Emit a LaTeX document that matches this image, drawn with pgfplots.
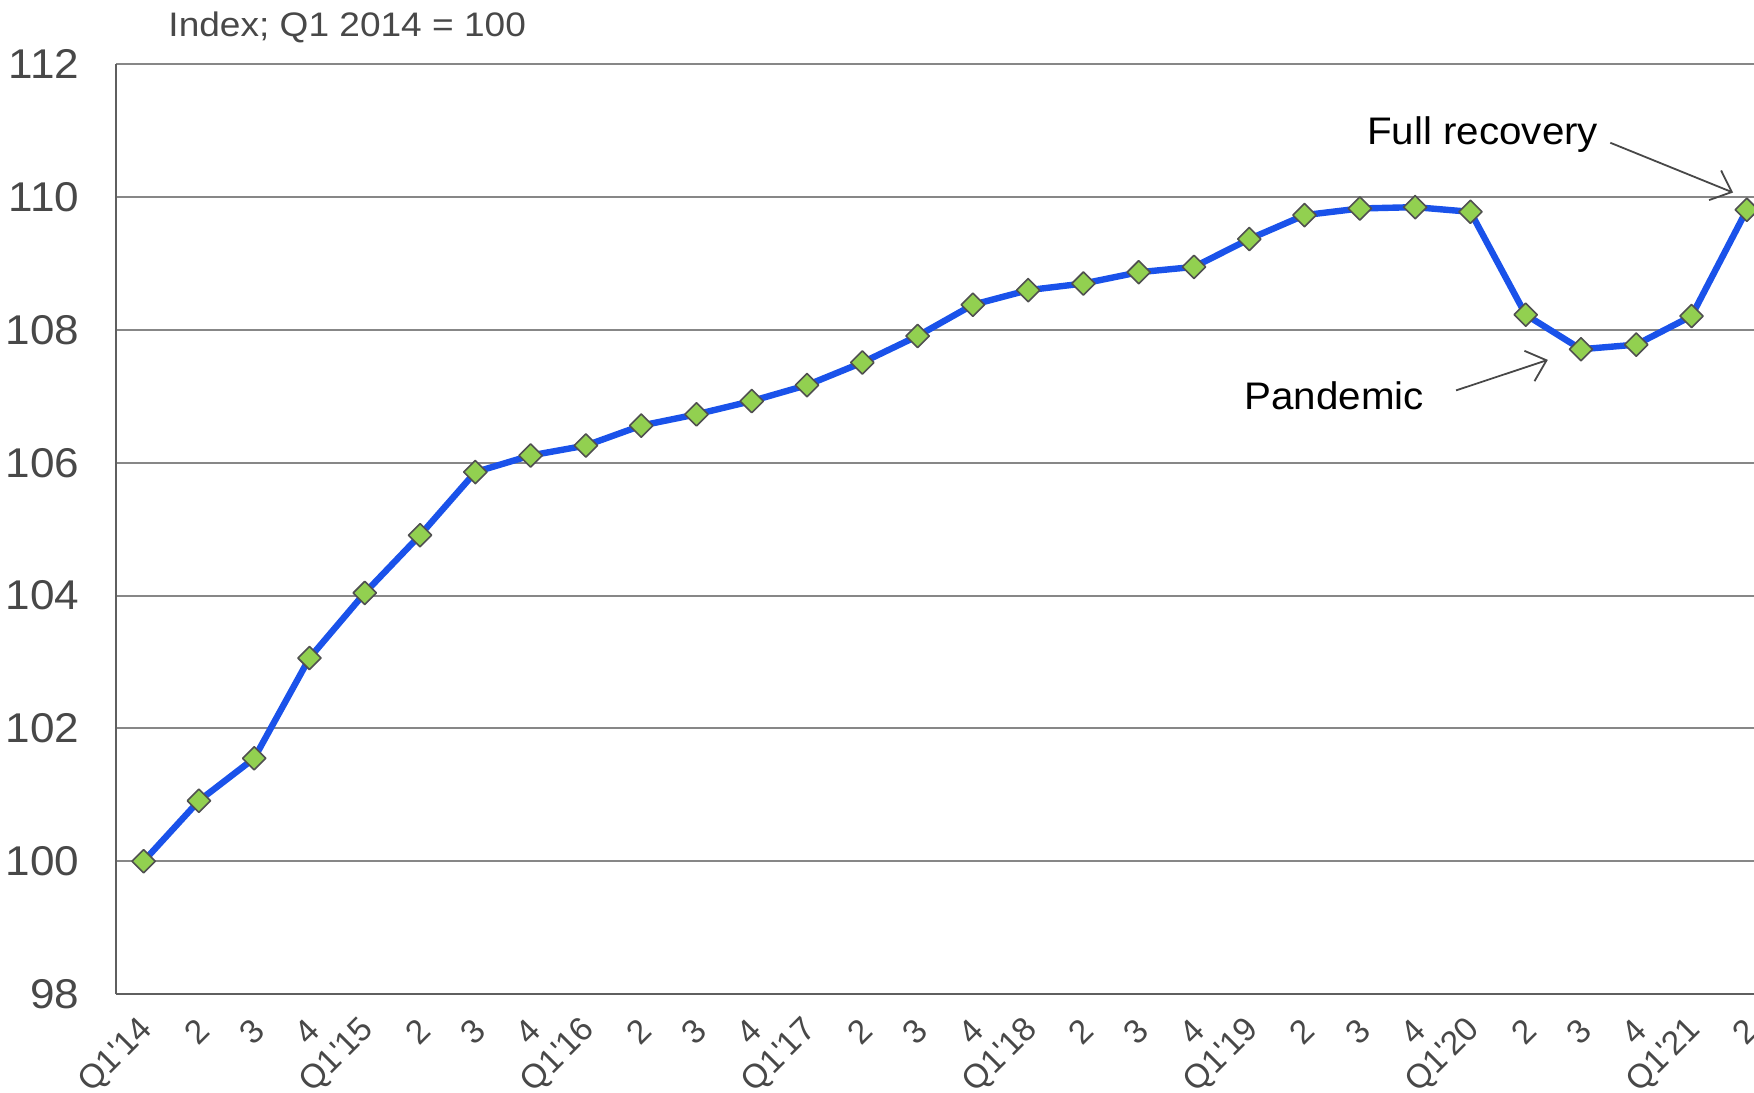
\documentclass[border=0pt]{standalone}
\usepackage{fontspec}
\setmainfont{Liberation Sans}
\usepackage{pgfplots}
\usepackage{pgfplotstable}
\pgfplotsset{compat=1.18}
\usetikzlibrary{arrows.meta}
\definecolor{lineblue}{RGB}{26,82,234}
\definecolor{mkgreen}{RGB}{146,208,80}
\definecolor{mkedge}{RGB}{80,80,80}
\definecolor{gridgray}{RGB}{135,135,135}
\definecolor{axisgray}{RGB}{95,95,95}
\definecolor{labgray}{RGB}{72,72,72}

\pgfplotstableread{
x y
0 100.00
1 100.91
2 101.55
3 103.06
4 104.04
5 104.91
6 105.86
7 106.11
8 106.26
9 106.56
10 106.73
11 106.93
12 107.17
13 107.51
14 107.91
15 108.38
16 108.60
17 108.70
18 108.87
19 108.95
20 109.37
21 109.73
22 109.83
23 109.85
24 109.78
25 108.23
26 107.71
27 107.78
28 108.21
29 109.81
}\datatable

\begin{document}
\begin{tikzpicture}
\useasboundingbox (-29pt,-24.5pt) rectangle (409.5pt,248.5pt);
\begin{axis}[
  at={(0pt,0pt)}, anchor=south west,
  scale only axis, width=409.5pt, height=232.4pt,
  xmin=-0.5, xmax=29.13, ymin=98, ymax=112,
  axis x line*=bottom, axis y line*=left,
  axis line style={axisgray, line width=0.6pt, -},
  ytick={98,100,...,112},
  xtick={0,...,29},
  xticklabels={Q1\textquotesingle14,2,3,4,Q1\textquotesingle15,2,3,4,Q1\textquotesingle16,2,3,4,Q1\textquotesingle17,2,3,4,Q1\textquotesingle18,2,3,4,Q1\textquotesingle19,2,3,4,Q1\textquotesingle20,2,3,4,Q1\textquotesingle21,2},
  ymajorgrids, grid style={gridgray, line width=0.5pt},
  major tick length=0pt,
  /pgf/number format/assume math mode=true,
  yticklabel style={font=\fontsize{10.4}{12}\selectfont, text=labgray, anchor=east, inner sep=0pt, xshift=-9pt, xscale=1.06},
  xticklabel style={font=\fontsize{8.4}{10}\selectfont, text=labgray, inner sep=0pt, xshift=1.2pt, yshift=-7.6pt, rotate=45, anchor=east},
]
\addplot[color=lineblue, line width=1.6pt, line join=round, mark=square*, mark size=2.05pt,
  mark options={rotate=45, fill=mkgreen, draw=mkedge, line width=0.4pt, solid}]
  table[x=x, y=y]{\datatable};
\node[anchor=base west, inner sep=0pt, font=\fontsize{9.6}{11}\selectfont, xscale=1.05] at (axis cs:22.12,110.79) {Full recovery};
\node[anchor=base west, inner sep=0pt, font=\fontsize{9.6}{11}\selectfont, xscale=1.05] at (axis cs:19.9,106.81) {Pandemic};
\draw[draw=labgray, line width=0.45pt, -{Straight Barb[length=4.5pt, width=8pt]}] (axis cs:26.53,110.82) -- (axis cs:28.75,110.07);
\draw[draw=labgray, line width=0.45pt, -{Straight Barb[length=4.5pt, width=8pt]}] (axis cs:23.74,107.09) -- (axis cs:25.40,107.55);
\end{axis}
\node[anchor=base west, inner sep=0pt, font=\fontsize{8.5}{10}\selectfont, text=labgray, xscale=1.09] at (12.9pt,239.4pt) {Index; Q1 2014 = 100};
\end{tikzpicture}
\end{document}
